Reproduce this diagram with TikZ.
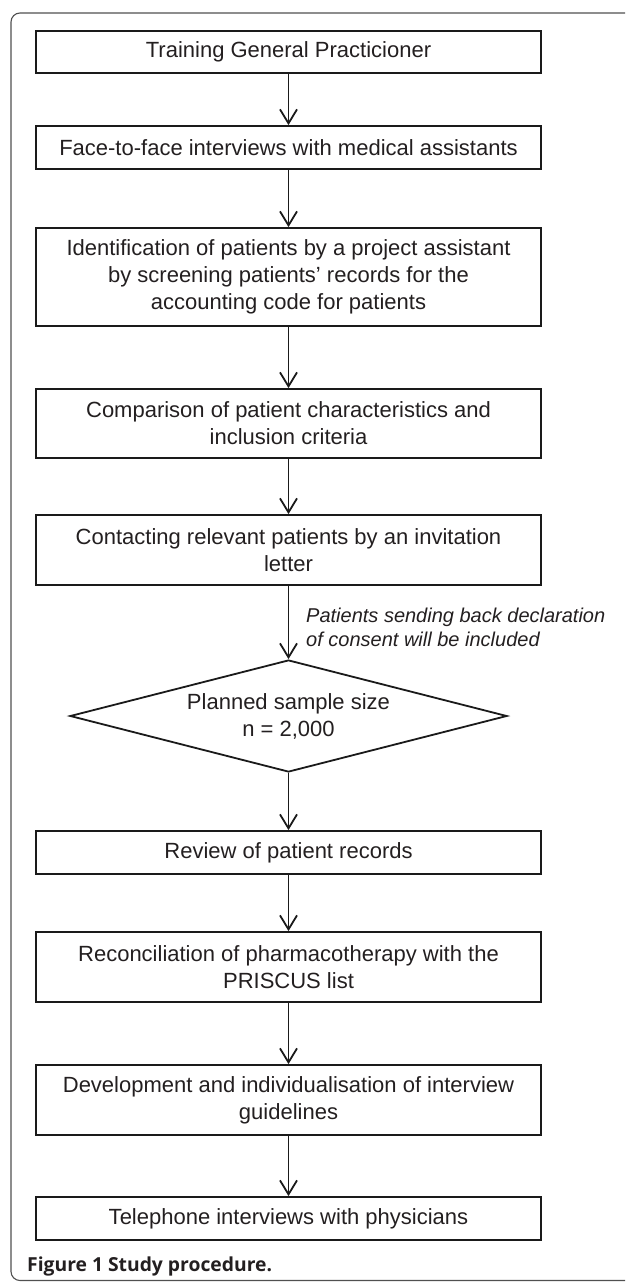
\documentclass[tikz,border=0pt]{standalone}
\usepackage{fontspec}
\setmainfont{Liberation Sans}
\newfontfamily\capfont{Open Sans}
\usetikzlibrary{shapes.geometric,arrows.meta}
\definecolor{ink}{HTML}{231F20}
\definecolor{linecol}{HTML}{1A1A1A}
\definecolor{framegray}{HTML}{505050}
\tikzset{
  stepbox/.style={draw=linecol, line width=1.8pt, minimum width=505pt, inner sep=0pt,
    align=center, font=\fontsize{22}{27}\selectfont, text=ink},
  decisionbox/.style={diamond, draw=linecol, line width=1.8pt, aspect=3.9,
    minimum width=437pt, minimum height=112pt, inner sep=0pt,
    align=center, font=\fontsize{22}{27}\selectfont, text=ink},
  flow/.style={draw=linecol, line width=1.8pt, -{Straight Barb[length=14pt,width=17pt]}},
  notetext/.style={align=left, inner sep=0pt, text=ink, font=\itshape\fontsize{20}{23.5}\selectfont},
  captext/.style={inner sep=0pt, text=ink, font=\capfont\bfseries\fontsize{19.3}{22}\selectfont}
}
\begin{document}
\begin{tikzpicture}[x=1pt,y=-1pt]
\useasboundingbox (0,0) rectangle (625,1283);
\begin{scope}
  \clip (0,0) rectangle (625,1283);
  \draw[framegray, line width=1.1pt, rounded corners=9pt] (11,13) rectangle (720,1280.5);
\end{scope}

\node[stepbox, minimum height=42pt] (b1) at (288.5,52) {Training General Practicioner};
\node[stepbox, minimum height=43pt] (b2) at (288.5,147.5) {Face-to-face interviews with medical assistants};
\node[stepbox, minimum height=98pt] (b3) at (288.5,277) {Identification of patients by a project assistant\\by screening patients’ records for the\\accounting code for patients};
\node[stepbox, minimum height=69pt] (b4) at (288.5,423.5) {Comparison of patient characteristics and\\inclusion criteria};
\node[stepbox, minimum height=70pt] (b5) at (288.5,550) {Contacting relevant patients by an invitation\\letter};
\node[decisionbox] (dia) at (288.5,716) {Planned sample size\\n = 2,000};
\node[stepbox, minimum height=43pt] (b6) at (288.5,852.5) {Review of patient records};
\node[stepbox, minimum height=70pt] (b7) at (288.5,967) {Reconciliation of pharmacotherapy with the\\PRISCUS list};
\node[stepbox, minimum height=70pt] (b8) at (288.5,1100) {Development and individualisation of interview\\guidelines};
\node[stepbox, minimum height=43pt] (b9) at (288.5,1218.5) {Telephone interviews with physicians};

\node[notetext, anchor=north west] (note) at (306,608) {Patients sending back declaration\\of consent will be included};
\node[captext, anchor=base west] (cap) at (27,1271) {Figure 1 Study procedure.};

\draw[flow] (b1) -- (b2);
\draw[flow] (b2) -- (b3);
\draw[flow] (b3) -- (b4);
\draw[flow] (b4) -- (b5);
\draw[flow] (b5) -- (dia);
\draw[flow] (dia) -- (b6);
\draw[flow] (b6) -- (b7);
\draw[flow] (b7) -- (b8);
\draw[flow] (b8) -- (b9);
\end{tikzpicture}
\end{document}
